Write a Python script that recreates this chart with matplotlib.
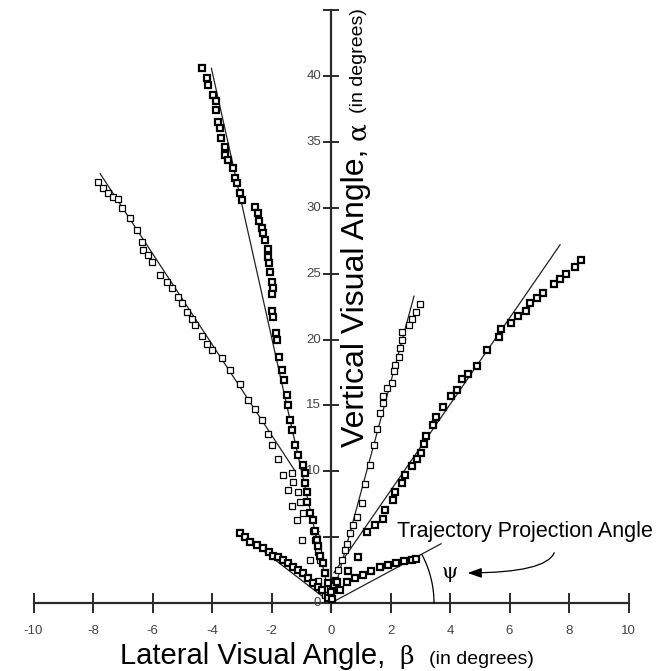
import matplotlib
matplotlib.use("Agg")
import matplotlib.pyplot as plt
import numpy as np

# ---------------- data (degrees) ----------------
# far-left trajectory (open squares)
fl_x = [-7.83, -7.66, -7.50, -7.33, -7.16, -7.03, -6.76, -6.52, -6.35, -6.32, -6.15, -6.02,
        -5.75, -5.51, -5.34, -5.14, -5.00, -4.84, -4.67, -4.57, -4.34, -4.17, -4.00, -3.66,
        -3.39, -3.06, -2.79, -2.55, -2.32, -2.12, -1.98, -1.78, -1.61, -1.45, -1.31, -1.14,
        -0.97, -0.71, -0.44, -0.20]
fl_y = [32.0, 31.5, 31.1, 30.8, 30.7, 30.0, 29.2, 28.3, 27.4, 26.8, 26.4, 25.9,
        24.9, 24.4, 23.9, 23.2, 22.8, 22.1, 21.6, 21.1, 20.3, 19.7, 19.2, 18.6,
        17.7, 16.6, 15.4, 14.7, 13.9, 12.8, 12.0, 10.9, 9.7, 8.6, 7.4, 6.3,
        4.8, 3.3, 1.7, 0.6]
fl_fit_x = [-7.76, -1.20]
fl_fit_y = [32.6, 10.0]

# steep-left trajectory (dark squares)
sl_x = [-4.34, -4.17, -4.13, -3.97, -3.87, -3.87, -3.80, -3.73, -3.70, -3.56, -3.56, -3.46,
        -3.29, -3.23, -3.16, -3.06, -2.99, -2.55, -2.45, -2.42, -2.32, -2.29, -2.22, -2.12,
        -2.12, -2.08, -2.05, -1.98, -1.95, -1.98, -1.98, -1.95, -1.85, -1.81, -1.75,
        -1.65, -1.58, -1.48, -1.45, -1.38, -1.31, -1.21, -1.11, -0.94, -0.87, -0.87, -0.81,
        -0.81, -0.71, -0.61, -0.54, -0.47, -0.44, -0.37, -0.27, -0.20, -0.10, 0.00]
sl_y = [40.6, 39.9, 39.3, 38.6, 38.1, 37.4, 36.5, 36.1, 35.3, 34.6, 34.0, 33.6,
        33.0, 32.3, 31.9, 31.1, 30.6, 30.1, 29.6, 29.0, 28.5, 28.1, 27.6, 26.9,
        26.3, 25.8, 25.1, 24.4, 23.9, 23.5, 22.2, 21.7, 20.5, 20.0, 18.7,
        17.7, 16.9, 15.8, 15.0, 13.9, 13.1, 12.0, 11.2, 10.5, 9.9, 9.1, 8.4,
        7.7, 6.8, 6.3, 5.5, 4.8, 4.3, 3.6, 3.0, 2.3, 1.5, 0.8]
sl_fit_x = [0.0, -4.02]
sl_fit_y = [0.0, 40.6]

# open squares beside the steep-left trajectory
so_x = [-1.31, -1.28, -1.11, -1.04, -0.94, -0.60, -0.54, -0.44, -0.37]
so_y = [9.9, 9.2, 8.4, 7.7, 6.8, 5.5, 4.8, 3.9, 3.3]

# low-left trajectory (dark squares)
ll_x = [-3.06, -2.90, -2.72, -2.50, -2.29, -2.10, -1.95, -1.78, -1.61, -1.45, -1.28, -1.10,
        -0.94, -0.77, -0.60, -0.45, -0.30, -0.10]
ll_y = [5.3, 5.0, 4.6, 4.4, 4.2, 3.9, 3.6, 3.5, 3.3, 3.0, 2.7, 2.5,
        2.3, 1.9, 1.5, 1.2, 1.0, 0.4]
ll_fit_x = [0.0, -3.10]
ll_fit_y = [0.0, 5.4]

# low-right trajectory (dark squares)
lr_x = [0.05, 0.30, 0.54, 0.80, 1.08, 1.35, 1.65, 1.92, 2.20, 2.45, 2.72, 2.86]
lr_y = [0.3, 1.0, 1.6, 1.9, 2.1, 2.4, 2.7, 2.9, 3.0, 3.2, 3.3, 3.35]
lr_fit_x = [0.0, 3.70]
lr_fit_y = [0.0, 4.5]

# steep-right trajectory (open squares)
sr_x = [3.00, 2.86, 2.72, 2.62, 2.39, 2.39, 2.32, 2.29, 2.15, 2.12, 2.05, 1.88, 1.75, 1.75,
        1.65, 1.55, 1.45, 1.30, 1.15, 1.05, 0.87, 0.74, 0.64, 0.54, 0.47, 0.37, 0.24, 0.13, 0.03]
sr_y = [22.7, 22.1, 21.6, 21.1, 20.6, 20.0, 19.4, 18.7, 18.1, 17.6, 16.7, 16.3, 15.7, 15.2,
        14.4, 13.2, 12.0, 10.5, 9.0, 7.6, 6.5, 5.9, 5.3, 4.5, 4.0, 3.3, 2.5, 1.75, 1.0]
sr_fit_x = [0.0, 2.79]
sr_fit_y = [0.0, 23.3]

# broad-right trajectory (dark squares)
br_x = [8.39, 8.20, 7.91, 7.71, 7.48, 7.14, 6.91, 6.68, 6.56, 6.28, 6.05, 5.71, 5.65, 5.24,
        4.91, 4.62, 4.39, 4.22, 4.05, 3.76, 3.53, 3.42, 3.19, 3.13, 3.02, 2.90, 2.73, 2.50,
        2.39, 2.15, 2.10, 1.82, 1.76, 1.48, 1.21, 0.91, 0.57, 0.20]
br_y = [26.07, 25.55, 24.98, 24.6, 24.2, 23.56, 23.17, 22.8, 22.14, 21.76, 21.24, 20.8, 20.2,
        19.2, 18.0, 17.4, 17.0, 16.2, 15.7, 14.9, 14.1, 13.5, 12.7, 12.1, 11.4, 10.9, 10.4,
        9.74, 9.1, 8.45, 7.8, 7.06, 6.38, 5.9, 5.4, 3.5, 2.4, 1.6]
br_fit_x = [0.10, 7.70]
br_fit_y = [2.30, 27.2]

x_ticks = [-10, -8, -6, -4, -2, 0, 2, 4, 6, 8, 10]
y_ticks = [0, 5, 10, 15, 20, 25, 30, 35, 40, 45]
y_tick_labels = ["0", "5", "10", "15", "20", "25", "30", "35", "40", ""]

# ---------------- figure ----------------
W, H = 668, 671
fig = plt.figure(figsize=(W / 100, H / 100), dpi=100)
ax = fig.add_axes([0, 0, 1, 1])
ax.set_axis_off()

# pixel mapping of the reference: x0=331px, 29.75 px/deg ; y0=603px, 13.17 px/deg
PX_X, PX_Y = 29.75, 13.17
X0, Y0 = 331.0, 603.0
ax.set_xlim(-X0 / PX_X, (W - X0) / PX_X)
ax.set_ylim(-(H - Y0) / PX_Y, Y0 / PX_Y)

axis_col = "#2a2a2a"
ax.plot([-10, 10], [0, 0], color=axis_col, lw=1.6, zorder=1)
ax.plot([0, 0], [-0.6, 45], color=axis_col, lw=1.6, zorder=1)
tx = 9 / PX_Y
for t in x_ticks:
    ax.plot([t, t], [-tx, tx], color=axis_col, lw=1.4, zorder=1)
    if t != 0:
        ax.text(t, -1.7, str(t), ha="center", va="top", fontsize=9.5,
                color="#444444", family="Liberation Sans")
ty = 7 / PX_X
for t, lab in zip(y_ticks, y_tick_labels):
    ax.plot([-ty, ty], [t, t], color=axis_col, lw=1.4, zorder=1)
    if lab:
        ax.text(-10 / PX_X, t, lab, ha="right", va="center", fontsize=9.5,
                color="#444444", family="Liberation Sans")
ax.text(0, -1.7, "0", ha="center", va="top", fontsize=9.5, color="#444444",
        family="Liberation Sans")

# fit lines
for fx, fy in [(fl_fit_x, fl_fit_y), (sl_fit_x, sl_fit_y), (ll_fit_x, ll_fit_y),
               (lr_fit_x, lr_fit_y), (sr_fit_x, sr_fit_y), (br_fit_x, br_fit_y)]:
    ax.plot(fx, fy, color="#222222", lw=0.9, zorder=2)

# markers
dark = dict(marker="s", ls="none", ms=4.0, mfc="white", mec="black", mew=1.6, zorder=3)
opn = dict(marker="s", ls="none", ms=4.5, mfc="white", mec="black", mew=0.9, zorder=3)
ax.plot(fl_x, fl_y, **opn)
ax.plot(so_x, so_y, **opn)
ax.plot(sr_x, sr_y, **opn)
ax.plot(sl_x, sl_y, **dark)
ax.plot(ll_x, ll_y, **dark)
ax.plot(lr_x, lr_y, **dark)
ax.plot(br_x, br_y, **dark)

# psi arc (circle in pixel space around origin)
th = np.linspace(0, np.deg2rad(28), 40)
R = 103
ax.plot(R * np.cos(th) / PX_X, R * np.sin(th) / PX_Y, color="black", lw=0.9, zorder=2)
ax.text(4.0, 2.35, "ψ", ha="center", va="center", fontsize=15, family="DejaVu Serif")
ax.text(2.22, 5.01, "Trajectory Projection Angle", ha="left", va="baseline",
        fontsize=15.5, family="Liberation Sans")
ax.annotate("", xy=(4.5, 2.28), xytext=(7.53, 4.02),
            arrowprops=dict(arrowstyle="-|>,head_length=0.7,head_width=0.25",
                            connectionstyle="angle3,angleA=80,angleB=0",
                            color="black", lw=0.9, mutation_scale=12))

# y axis label (rotated pieces), positions from reference pixels
ylab_x = (356 - X0) / PX_X
ax.text(ylab_x, (Y0 - 447) / PX_Y, "Vertical Visual Angle,", rotation=90, ha="center",
        va="bottom", fontsize=23, family="Liberation Sans")
ax.text(ylab_x + 0.05, (Y0 - 131) / PX_Y, "α", rotation=90, ha="center", va="center",
        fontsize=19, family="DejaVu Serif")
ax.text(ylab_x + 0.1, (Y0 - 8) / PX_Y, "(in degrees)", rotation=90, ha="center", va="top",
        fontsize=14, family="Liberation Sans")

# x axis label
ax.text((120 - X0) / PX_X, -4.6, "Lateral Visual Angle,", ha="left", va="baseline",
        fontsize=21, family="Liberation Sans")
ax.text((407 - X0) / PX_X, -4.6, "β", ha="center", va="baseline", fontsize=18,
        family="DejaVu Serif")
ax.text((429 - X0) / PX_X, -4.6, "(in degrees)", ha="left", va="baseline", fontsize=14,
        family="Liberation Sans")

fig.savefig("out.png", dpi=100)
